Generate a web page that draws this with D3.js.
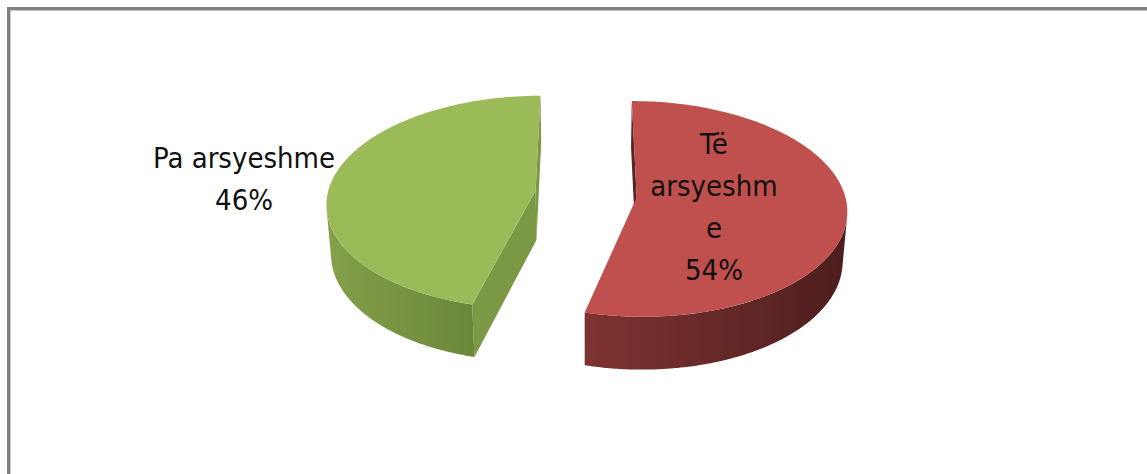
<!DOCTYPE html>
<html>
<head>
<meta charset="utf-8">
<script src="https://cdn.jsdelivr.net/npm/d3@7"></script>
<style>
  body { margin: 0; background: #fff; }
  svg { display: block; }
</style>
</head>
<body>
<svg id="chart" width="1147" height="474"></svg>
<script>
// data
var categories = ["Të arsyeshme", "Pa arsyeshme"];
var values = [54, 46];
var labelLines = [["Të", "arsyeshm", "e"], ["Pa arsyeshme"]];

// styles per slice
var topColors = ["#C0504D", "#9BBB59"];
var wallLeft = ["#9B403E", "#87A24C"];   // wall shade when facing left
var wallRight = ["#4A1D1C", "#3D5B1D"];  // wall shade when facing right
var cutColors = ["#5A2422", "#7B9845"];
var labelRadius = [0.37, 1.45];
var labelShift = [4, 6];

var svg = d3.select("#chart");
var defs = svg.append("defs");

// frame (top/left visible, runs off the picture)
svg.append("rect")
  .attr("x", 8.5).attr("y", 8.5)
  .attr("width", 1300).attr("height", 700)
  .attr("fill", "none")
  .attr("stroke", "#808080")
  .attr("stroke-width", 3);
svg.append("rect")
  .attr("x", 10.5).attr("y", 10.5)
  .attr("width", 1300).attr("height", 700)
  .attr("fill", "none")
  .attr("stroke", "#c8c8c8")
  .attr("stroke-width", 1);

// simple perspective projection of the pie (radius 1)
var cx = 586, cy = 194, scale = 208, dist = 8;
var tilt = 30.6 * Math.PI / 180, depth = 0.28, explode = 0.245;
var cam = [0, dist * Math.sin(tilt), dist * Math.cos(tilt)];

function project(X, Y, Z) {
  var d = dist - (Y * Math.sin(tilt) + Z * Math.cos(tilt));
  var k = dist / d;
  return [cx + scale * X * k, cy - scale * (Y * Math.cos(tilt) - Z * Math.sin(tilt)) * k];
}

function facing(n, p) {
  return n[0] * (cam[0] - p[0]) + n[1] * (cam[1] - p[1]) + n[2] * (cam[2] - p[2]) > 0;
}

var pie = d3.pie().sort(null).value(function(d) { return d; });
var arcs = pie(values);
var line = d3.line();

arcs.forEach(function(a, i) {
  var mid = (a.startAngle + a.endAngle) / 2;
  var ox = explode * Math.sin(mid), oz = -explode * Math.cos(mid);
  var g = svg.append("g").attr("class", "slice");

  function rim(t, y) { return project(ox + Math.sin(t), y, oz - Math.cos(t)); }
  function ctr(y) { return project(ox, y, oz); }

  // cut faces
  [[a.startAngle, -1], [a.endAngle, 1]].forEach(function(b) {
    var t = b[0];
    var n = [b[1] * Math.cos(t), 0, b[1] * Math.sin(t)];
    if (facing(n, [ox, 0, oz])) {
      g.append("path")
        .attr("d", line([ctr(0), rim(t, 0), rim(t, -depth), ctr(-depth)]) + "Z")
        .attr("fill", cutColors[i]);
    }
  });

  // outer wall: visible angles only, shaded with a horizontal gradient
  var shade = d3.scaleLinear().domain([-1, 1]).range([wallLeft[i], wallRight[i]]);
  var vis = [];
  var nStep = 400;
  for (var s = 0; s <= nStep; s++) {
    var t = a.startAngle + (a.endAngle - a.startAngle) * s / nStep;
    if (facing([Math.sin(t), 0, -Math.cos(t)], [ox + Math.sin(t), 0, oz - Math.cos(t)])) vis.push(t);
  }
  if (vis.length > 1) {
    var topPts = vis.map(function(t) { return rim(t, 0); });
    var botPts = vis.map(function(t) { return rim(t, -depth); }).reverse();
    var xs = topPts.map(function(p) { return p[0]; });
    var x1 = d3.min(xs), x2 = d3.max(xs);
    var stops = vis.map(function(t, k) {
      return { off: (xs[k] - x1) / (x2 - x1), color: shade(Math.sin(t)) };
    }).sort(function(p, q) { return p.off - q.off; });
    var grad = defs.append("linearGradient")
      .attr("id", "wall" + i)
      .attr("gradientUnits", "userSpaceOnUse")
      .attr("x1", x1).attr("y1", 0).attr("x2", x2).attr("y2", 0);
    stops.filter(function(d, k) { return k % 10 === 0 || k === stops.length - 1; })
      .forEach(function(d) {
        grad.append("stop").attr("offset", d.off).attr("stop-color", d.color);
      });
    g.append("path")
      .attr("d", line(topPts.concat(botPts)) + "Z")
      .attr("fill", "url(#wall" + i + ")");
  }

  // top face
  var pts = [ctr(0)];
  var nSeg = 180;
  for (var k = 0; k <= nSeg; k++) {
    pts.push(rim(a.startAngle + (a.endAngle - a.startAngle) * k / nSeg, 0));
  }
  g.append("path")
    .attr("d", line(pts) + "Z")
    .attr("fill", topColors[i]);

  // label
  var r = explode + labelRadius[i];
  var anchor = project(r * Math.sin(mid), 0, -r * Math.cos(mid));
  var lines = labelLines[i].concat([values[i] + "%"]);
  var lh = 42;
  var text = g.append("text")
    .attr("text-anchor", "middle")
    .attr("font-family", "'DejaVu Sans Condensed', 'Liberation Sans', sans-serif")
    .attr("font-size", 29)
    .attr("fill", "#111");
  lines.forEach(function(s, j) {
    text.append("tspan")
      .attr("x", anchor[0])
      .attr("y", anchor[1] + labelShift[i] + (j - (lines.length - 1) / 2) * lh + 11)
      .text(s);
  });
});
</script>
</body>
</html>
